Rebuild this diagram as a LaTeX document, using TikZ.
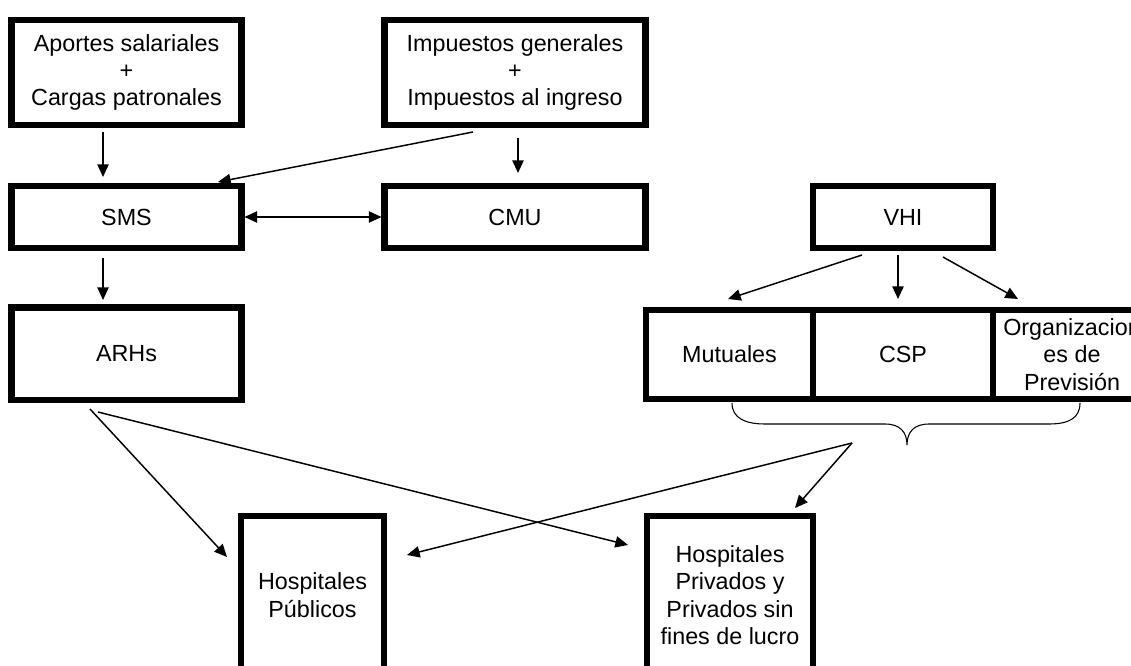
\documentclass[tikz,border=0pt]{standalone}
\usepackage{fontspec}
\setmainfont{Liberation Sans}
\usetikzlibrary{arrows.meta,calc}
\begin{document}
\begin{tikzpicture}[x=0.75pt,y=-0.75pt,
  box/.style={draw, line width=5pt, rectangle, outer sep=0pt, inner sep=0pt,
    align=center, font=\fontsize{17.5}{20.6}\selectfont},
  sz/.style 2 args={minimum width=#1*0.75pt, minimum height=#2*0.75pt},
  tip/.style={Triangle[length=9.5pt,width=8.5pt]},
  arr/.style={line width=1.1pt, -{Triangle[length=9.5pt,width=8.5pt]}},
  arrb/.style={line width=1.1pt, {Triangle[length=9.5pt,width=8.5pt]}-{Triangle[length=9.5pt,width=8.5pt]}},
]
\useasboundingbox (0,0) rectangle (1131,666);
\clip (0,0) rectangle (1131,666);

% funding sources
\node[box, sz={230}{105}] (apo) at (126.5,72.5) {Aportes salariales\\+\\Cargas patronales};
\node[box, sz={261}{105}] (imp) at (515,72.5) {Impuestos generales\\+\\Impuestos al ingreso};

% insurers
\node[box, sz={230}{62}] (sms) at (126.5,217) {SMS};
\node[box, sz={261}{62}] (cmu) at (515,217) {CMU};
\node[box, sz={180}{62}] (vhi) at (903,217) {VHI};

% intermediaries
\node[box, sz={230}{92.5}] (arh) at (126.5,353.75) {ARHs};
\node[box, sz={167}{89}] (mut) at (729.5,354.5) {Mutuales};
\node[box, sz={180}{89}] (csp) at (903,354.5) {CSP};
\node[box, sz={158}{89}] (org) at (1072,354.5) {Organizacion\\es de\\Previsión};

% providers
\node[box, sz={143}{158}] (pub) at (312.5,595) {Hospitales\\Públicos};
\node[box, sz={166}{158}] (priv) at (730,595) {Hospitales\\Privados y\\Privados sin\\fines de lucro};

% brace grouping the voluntary insurers
\draw[line width=0.8pt] (732,403) .. controls (732,418) and (745,424) .. (765,424)
  -- (885,424) .. controls (900,424) and (907,432) .. (907,445)
  .. controls (907,432) and (914,424) .. (929,424) -- (1049,424)
  .. controls (1069,424) and (1080,418) .. (1080,403);
\coordinate (vol) at (852,443);

% flows
\draw[arr] ($(apo.south)+(-23.5,7)$) -- ($(sms.north)+(-23.5,-9)$);
\draw[arr] ($(imp.south)+(-42,7)$) -- ($(sms.north)+(91.5,-4)$);
\draw[arr] ($(imp.south)+(3,13)$) -- ($(cmu.north)+(3,-13)$);
\draw[arrb] ($(sms.east)+(3,0)$) -- ($(cmu.west)+(-3,0)$);
\draw[arr] ($(sms.south)+(-23.5,10)$) -- ($(arh.north)+(-23.5,-7.5)$);

\draw[arr] ($(vhi.south)+(-41,7)$) -- ($(mut.north)+(-1.5,-11)$);
\draw[arr] ($(vhi.south)+(-5,7)$) -- ($(csp.north)+(-5,-11)$);
\draw[arr] ($(vhi.south)+(40,9)$) -- ($(org.north)+(-54,-11)$);

\draw[arr] ($(arh.south)+(-36.5,9)$) -- ($(pub.west)+(-14,-38)$);
\draw[arr] ($(arh.south)+(-28.5,12)$) -- ($(priv.west)+(-19,-50)$);
\draw[arr] (vol) -- ($(pub.east)+(23,-40)$);
\draw[arr] (vol) -- ($(priv.north)+(65,-8)$);
\end{tikzpicture}
\end{document}
